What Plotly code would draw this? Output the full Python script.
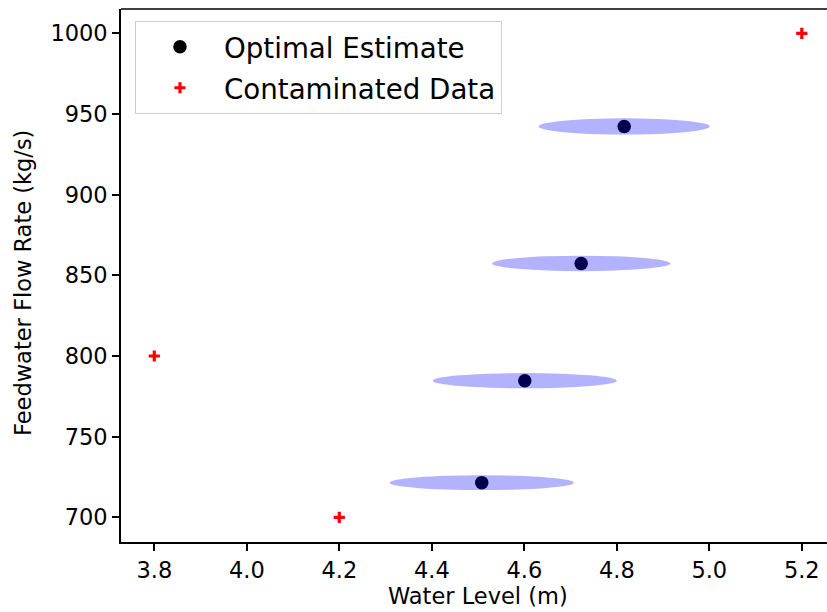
import plotly.graph_objects as go

# ---- data ----
est_x = [4.508, 4.601, 4.723, 4.816]
est_y = [721.5, 784.7, 857.4, 942.3]
ell_half_w = [0.199, 0.199, 0.1925, 0.185]
ell_half_h = [4.6, 4.7, 4.8, 5.0]
cont_x = [3.8, 4.2, 5.2]
cont_y = [800, 700, 1000]
x_ticks = [3.8, 4.0, 4.2, 4.4, 4.6, 4.8, 5.0, 5.2]
y_ticks = [700, 750, 800, 850, 900, 950, 1000]

FONT = "DejaVu Sans"
TICK_FS = 22.5
LEG_FS = 27.7

fig = go.Figure()
fig.add_trace(go.Scatter(
    x=est_x, y=est_y, mode="markers", name="Optimal Estimate",
    legendgroup="a",
    marker=dict(symbol="circle", size=13.5, color="black", line=dict(width=0)),
))
fig.add_trace(go.Scatter(
    x=cont_x, y=cont_y, mode="markers", name="Contaminated Data",
    legendgroup="b",
    marker=dict(symbol="cross-thin", size=8, color="red",
                line=dict(width=3.2, color="red")),
))

shapes = []
for cx, cy, hw, hh in zip(est_x, est_y, ell_half_w, ell_half_h):
    shapes.append(dict(type="circle", xref="x", yref="y",
                       x0=cx - hw, x1=cx + hw, y0=cy - hh, y1=cy + hh,
                       fillcolor="rgba(0,0,255,0.3)", line=dict(width=0),
                       layer="above"))
# top spine
shapes.append(dict(type="line", xref="paper", yref="paper", x0=0, x1=1, y0=1, y1=1,
                   line=dict(color="black", width=1.6), layer="above"))

axis_common = dict(
    showline=True, linecolor="black", linewidth=1.6,
    ticks="outside", ticklen=7, tickwidth=1.6, tickcolor="black",
    showgrid=False, zeroline=False,
    tickfont=dict(family=FONT, size=TICK_FS, color="black"),
)

fig.update_layout(
    width=827, height=612,
    margin=dict(l=121, r=0, t=9, b=70),
    plot_bgcolor="white", paper_bgcolor="white",
    font=dict(family=FONT, color="black"),
    shapes=shapes,
    xaxis=dict(range=[3.728, 5.2545], tickvals=x_ticks, tickformat=".1f", **axis_common),
    yaxis=dict(range=[684.7, 1015.1], tickvals=y_ticks, **axis_common),
    showlegend=True,
    legend=dict(x=0.0198, y=0.977, xanchor="left", yanchor="top",
                bgcolor="rgba(255,255,255,0.8)", bordercolor="#cccccc", borderwidth=1,
                font=dict(family=FONT, size=LEG_FS, color="black"),
                itemwidth=78, tracegroupgap=2),
    annotations=[
        dict(text="Water Level (m)", xref="x", yref="paper", x=4.5, y=-0.101,
             xanchor="center", yanchor="middle", showarrow=False,
             font=dict(family=FONT, size=TICK_FS, color="black")),
        dict(text="Feedwater Flow Rate (kg/s)", xref="paper", yref="paper",
             x=-0.1388, y=0.486, xanchor="center", yanchor="middle", textangle=-90,
             showarrow=False, font=dict(family=FONT, size=TICK_FS, color="black")),
    ],
)

fig.write_html("out.html")
